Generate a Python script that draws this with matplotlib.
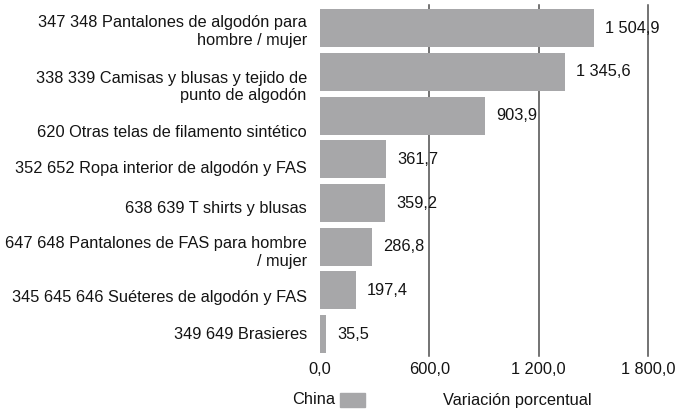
import matplotlib
matplotlib.use("Agg")
import matplotlib.pyplot as plt
from matplotlib.patches import Rectangle

plt.rcParams['font.family'] = ['Liberation Sans', 'DejaVu Sans']

categories = [
    "347 348 Pantalones de algodón para\nhombre / mujer",
    "338 339 Camisas y blusas y tejido de\npunto de algodón",
    "620 Otras telas de filamento sintético",
    "352 652 Ropa interior de algodón y FAS",
    "638 639 T shirts y blusas",
    "647 648 Pantalones de FAS para hombre\n/ mujer",
    "345 645 646 Suéteres de algodón y FAS",
    "349 649 Brasieres",
]
values = [1504.9, 1345.6, 903.9, 361.7, 359.2, 286.8, 197.4, 35.5]
value_labels = ["1 504,9", "1 345,6", "903,9", "361,7", "359,2", "286,8", "197,4", "35,5"]
xticks = [0, 600, 1200, 1800]
xtick_labels = ["0,0", "600,0", "1 200,0", "1 800,0"]
series_name = "China"
axis_title = "Variación porcentual"

# downward nudge of each category label, in points
label_drop = [2.5, 11, 12.5, 6.5, 4, 4.3, 5, 0]

BAR = "#a7a7a9"
TEXT = "#141414"
GRID = "#4d4d4d"
FS = 11.8

fig = plt.figure(figsize=(6.76, 4.09), dpi=100)
ax = fig.add_axes([320 / 676, 1 - 356 / 409, 328 / 676, 351 / 409])

pos = list(range(len(values)))
ax.barh(pos, values, height=0.87, color=BAR, zorder=2)
ax.set_xlim(0, 1800)
ax.set_ylim(7.5, -0.53)

for x in xticks[1:]:
    ax.axvline(x, color=GRID, lw=1.1, zorder=1, clip_on=False)

for sp in ax.spines.values():
    sp.set_visible(False)

ax.set_yticks([])
ax.set_xticks(xticks)
ax.set_xticklabels(xtick_labels, fontsize=FS, color=TEXT)
ax.tick_params(axis="x", length=0, pad=4.5)

for p, v, lab in zip(pos, values, value_labels):
    ax.annotate(lab, (v, p), xytext=(8, 0), textcoords="offset points",
                ha="left", va="center", fontsize=FS, color=TEXT, zorder=3)

for p, cat, d in zip(pos, categories, label_drop):
    ax.annotate(cat, (0, p), xycoords=("axes fraction", "data"),
                xytext=(-9.5, -d), textcoords="offset points",
                ha="right", va="center", multialignment="right",
                fontsize=FS, color=TEXT, linespacing=1.2)

# legend row
fig.text(335 / 676, 1 - 400 / 409, series_name, ha="right", va="center",
         fontsize=FS, color=TEXT)
fig.patches.append(Rectangle((340 / 676, 1 - 407 / 409), 25 / 676, 14 / 409,
                             transform=fig.transFigure, color=BAR))
fig.text(443 / 676, 1 - 401 / 409, axis_title, ha="left", va="center",
         fontsize=FS, color=TEXT)

fig.savefig("out.png", dpi=100)
